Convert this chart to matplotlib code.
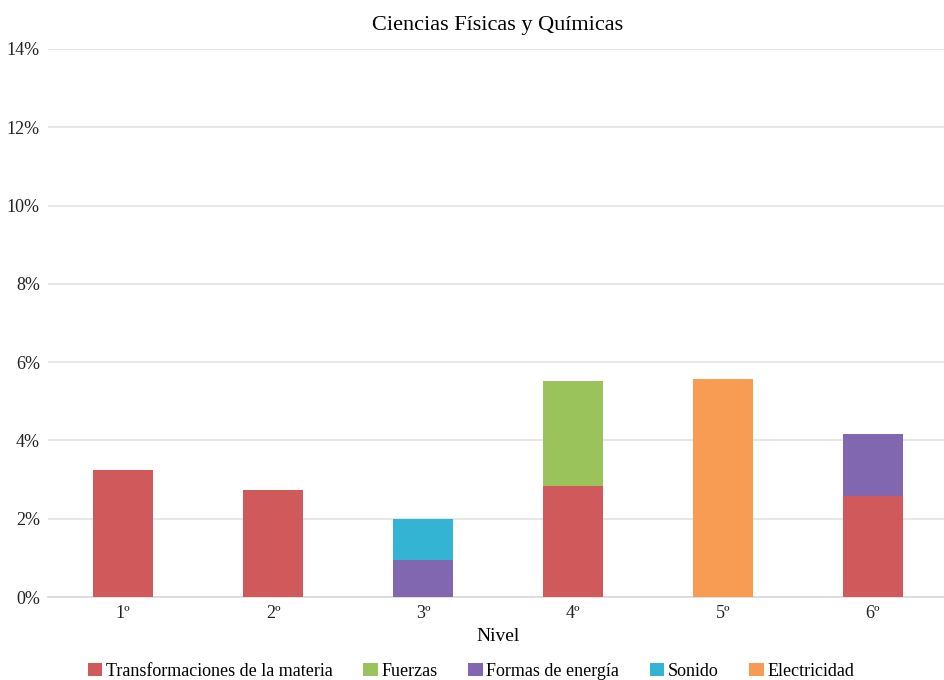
import numpy as np
import matplotlib
matplotlib.use('Agg')
from matplotlib import pyplot as plt
from matplotlib.ticker import FuncFormatter

niveles = ['1º', '2º', '3º', '4º', '5º', '6º']
transformaciones = [3.24, 2.73, 0.0, 2.84, 0.0, 2.58]
fuerzas = [0.0, 0.0, 0.0, 2.68, 0.0, 0.0]
formas = [0.0, 0.0, 0.95, 0.0, 0.0, 1.58]
sonido = [0.0, 0.0, 1.04, 0.0, 0.0, 0.0]
electricidad = [0.0, 0.0, 0.0, 0.0, 5.57, 0.0]

series = [('Transformaciones de la materia', transformaciones, '#D05A5B'),
          ('Fuerzas', fuerzas, '#9BC35B'),
          ('Formas de energía', formas, '#8067B0'),
          ('Sonido', sonido, '#33B4D2'),
          ('Electricidad', electricidad, '#F79C52')]

plt.rcParams['font.family'] = ['Liberation Serif', 'DejaVu Serif']

fig = plt.figure(figsize=(9.45, 6.8), dpi=100)
ax = fig.add_axes([0.051, 0.122, 0.952, 0.806])

x = np.arange(len(niveles))
bottom = np.zeros(len(niveles))
for name, vals, col in series:
    vals = np.array(vals)
    ax.bar(x, vals, 0.4, bottom=bottom, color=col, label=name, zorder=3)
    bottom += vals

ax.set_xlim(-0.5, 5.5)
ax.set_ylim(0, 14)
ax.set_yticks(np.arange(0, 15, 2))
ax.yaxis.set_major_formatter(FuncFormatter(lambda v, p: '%d%%' % v))
ax.set_xticks(x)
ax.set_xticklabels(niveles)
ax.grid(axis='y', color='#E3E3E3', linewidth=1.2, zorder=0)
for s in ['top', 'right', 'left']:
    ax.spines[s].set_visible(False)
ax.spines['bottom'].set_color('#D9D9D9')
ax.spines['bottom'].set_linewidth(1.2)
ax.tick_params(axis='both', length=0, labelsize=13, colors='#222222', pad=6)
ax.set_xlabel('Nivel', fontsize=14, labelpad=4)
ax.set_title('Ciencias Físicas y Químicas', fontsize=16, pad=14)

ax.legend(loc='upper center', bbox_to_anchor=(0.47, -0.09), ncol=5, frameon=False,
          fontsize=13, handlelength=0.8, handleheight=0.8, handletextpad=0.2,
          columnspacing=1.7)

fig.savefig('out.png', dpi=100)
